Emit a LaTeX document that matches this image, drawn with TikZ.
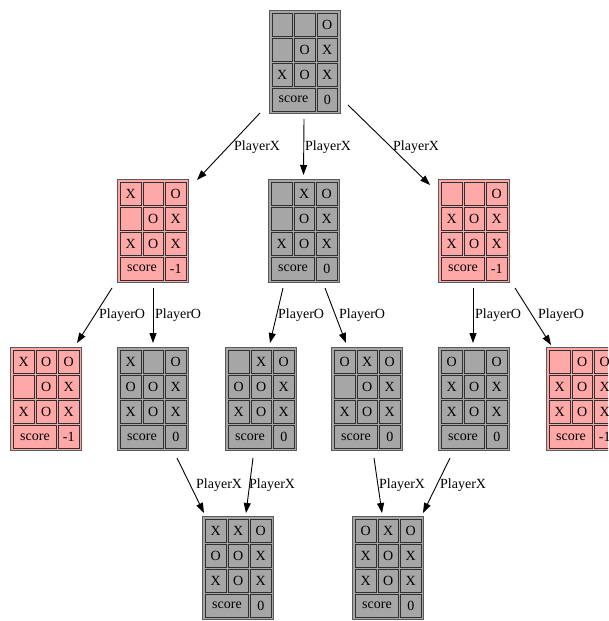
\documentclass[tikz,border=0pt]{standalone}
\usepackage{fontspec}
\setmainfont{Liberation Serif}
\usetikzlibrary{arrows.meta}
\definecolor{gfill}{HTML}{A6A6A6}
\definecolor{pfill}{HTML}{FFA8A8}
\definecolor{bline}{HTML}{5A5A5A}
\definecolor{cline}{HTML}{303030}
\tikzset{
  board/.style={draw=bline, line width=1pt, minimum width=71pt, minimum height=103pt, inner sep=0pt, outer sep=0pt},
  grayboard/.style={board, fill=gfill},
  pinkboard/.style={board, fill=pfill},
  cellbox/.style={draw=cline, line width=1pt},
  celltext/.style={font=\fontsize{14}{14}\selectfont, inner sep=0pt},
  edge/.style={draw=black, line width=0.9pt, -{Triangle[length=10pt,width=7pt]}},
  elabel/.style={font=\fontsize{14}{14}\selectfont, anchor=west, inner sep=0pt},
}
% node, row id, top y, three cells
\newcommand\cellrow[6]{%
  \draw[cellbox] ([shift={(3,#3)}]#1.north west) rectangle node[celltext] (#1-#2a) {#4} ([shift={(23.5,#3+23)}]#1.north west);
  \draw[cellbox] ([shift={(25.5,#3)}]#1.north west) rectangle node[celltext] (#1-#2b) {#5} ([shift={(46,#3+23)}]#1.north west);
  \draw[cellbox] ([shift={(48,#3)}]#1.north west) rectangle node[celltext] (#1-#2c) {#6} ([shift={(68.5,#3+23)}]#1.north west);
}
% node, position, style, score
\newcommand\board[4]{%
  \node[#3] (#1) at (#2) {};
  \draw[cellbox] ([shift={(3,78)}]#1.north west) rectangle node[celltext] (#1-sl) {score} ([shift={(46,101)}]#1.north west);
  \draw[cellbox] ([shift={(48,78)}]#1.north west) rectangle node[celltext] (#1-sv) {#4} ([shift={(68.5,101)}]#1.north west);
}
\begin{document}
\begin{tikzpicture}[x=1pt,y=-1pt]
\useasboundingbox (0,0) rectangle (608,621);
\clip (0,0) rectangle (608,621);

\board{top}{304.5,61.5}{grayboard}{0}
\cellrow{top}{1}{3}{}{}{O}
\cellrow{top}{2}{28}{}{O}{X}
\cellrow{top}{3}{53}{X}{O}{X}

\board{l2a}{153,230.5}{pinkboard}{-1}
\cellrow{l2a}{1}{3}{X}{}{O}
\cellrow{l2a}{2}{28}{}{O}{X}
\cellrow{l2a}{3}{53}{X}{O}{X}

\board{l2b}{304,230.5}{grayboard}{0}
\cellrow{l2b}{1}{3}{}{X}{O}
\cellrow{l2b}{2}{28}{}{O}{X}
\cellrow{l2b}{3}{53}{X}{O}{X}

\board{l2c}{474,230.5}{pinkboard}{-1}
\cellrow{l2c}{1}{3}{}{}{O}
\cellrow{l2c}{2}{28}{X}{O}{X}
\cellrow{l2c}{3}{53}{X}{O}{X}

\board{l3a}{46,399}{pinkboard}{-1}
\cellrow{l3a}{1}{3}{X}{O}{O}
\cellrow{l3a}{2}{28}{}{O}{X}
\cellrow{l3a}{3}{53}{X}{O}{X}

\board{l3b}{153,399}{grayboard}{0}
\cellrow{l3b}{1}{3}{X}{}{O}
\cellrow{l3b}{2}{28}{O}{O}{X}
\cellrow{l3b}{3}{53}{X}{O}{X}

\board{l3c}{261,399}{grayboard}{0}
\cellrow{l3c}{1}{3}{}{X}{O}
\cellrow{l3c}{2}{28}{O}{O}{X}
\cellrow{l3c}{3}{53}{X}{O}{X}

\board{l3d}{367,399}{grayboard}{0}
\cellrow{l3d}{1}{3}{O}{X}{O}
\cellrow{l3d}{2}{28}{}{O}{X}
\cellrow{l3d}{3}{53}{X}{O}{X}

\board{l3e}{474,399}{grayboard}{0}
\cellrow{l3e}{1}{3}{O}{}{O}
\cellrow{l3e}{2}{28}{X}{O}{X}
\cellrow{l3e}{3}{53}{X}{O}{X}

\board{l3f}{582,399}{pinkboard}{-1}
\cellrow{l3f}{1}{3}{}{O}{O}
\cellrow{l3f}{2}{28}{X}{O}{X}
\cellrow{l3f}{3}{53}{X}{O}{X}

\board{l4a}{238,567.5}{grayboard}{0}
\cellrow{l4a}{1}{3}{X}{X}{O}
\cellrow{l4a}{2}{28}{O}{O}{X}
\cellrow{l4a}{3}{53}{X}{O}{X}

\board{l4b}{388,567.5}{grayboard}{0}
\cellrow{l4b}{1}{3}{O}{X}{O}
\cellrow{l4b}{2}{28}{X}{O}{X}
\cellrow{l4b}{3}{53}{X}{O}{X}

% edges
\draw[edge] ([shift={(-44.5,0)}]top.south) -- ([shift={(44,1)}]l2a.north);
\draw[edge] ([shift={(-0.5,6)}]top.south) -- ([shift={(-0.5,-4)}]l2b.north);
\draw[edge] ([shift={(43.5,-8)}]top.south) -- ([shift={(-44,6)}]l2c.north);
\draw[edge] ([shift={(-41,6)}]l2a.south) -- ([shift={(31,-4.5)}]l3a.north);
\draw[edge] ([shift={(0,6)}]l2a.south) -- ([shift={(0,-4.5)}]l3b.north);
\draw[edge] ([shift={(-21,6)}]l2b.south) -- ([shift={(9,-4.5)}]l3c.north);
\draw[edge] ([shift={(21,6)}]l2b.south) -- ([shift={(-21,-4.5)}]l3d.north);
\draw[edge] ([shift={(-1,6)}]l2c.south) -- ([shift={(-1,-4.5)}]l3e.north);
\draw[edge] ([shift={(41,6)}]l2c.south) -- ([shift={(-31,-2.5)}]l3f.north);
\draw[edge] ([shift={(24,7.5)}]l3b.south) -- ([shift={(-34,-3)}]l4a.north);
\draw[edge] ([shift={(-8,7.5)}]l3c.south) -- ([shift={(8,-3)}]l4a.north);
\draw[edge] ([shift={(7,7.5)}]l3d.south) -- ([shift={(-6,-3)}]l4b.north);
\draw[edge] ([shift={(-24,7.5)}]l3e.south) -- ([shift={(35,-3)}]l4b.north);

% edge labels
\node[elabel] (e1) at (234,147) {PlayerX};
\node[elabel] (e2) at (305,147) {PlayerX};
\node[elabel] (e3) at (393,147) {PlayerX};
\node[elabel] (e4) at (99,315) {PlayerO};
\node[elabel] (e5) at (155,315) {PlayerO};
\node[elabel] (e6) at (278,315) {PlayerO};
\node[elabel] (e7) at (339,315) {PlayerO};
\node[elabel] (e8) at (475,315) {PlayerO};
\node[elabel] (e9) at (538,315) {PlayerO};
\node[elabel] (e10) at (196,485) {PlayerX};
\node[elabel] (e11) at (249,485) {PlayerX};
\node[elabel] (e12) at (379,485) {PlayerX};
\node[elabel] (e13) at (440,485) {PlayerX};
\end{tikzpicture}
\end{document}
